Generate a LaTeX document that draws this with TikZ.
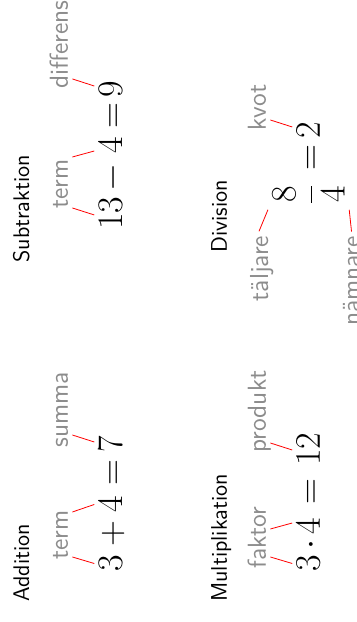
\documentclass[tikz,border=0pt]{standalone}
\tikzset{
  rubrik/.style={anchor=base west, inner sep=0pt, font=\sffamily\fontsize{11.3}{13}\selectfont},
  sym/.style={anchor=base, inner sep=2pt, font=\LARGE, scale=1.04},
  namn/.style={anchor=base, inner sep=2pt, text depth=0pt, text=black!45, font=\sffamily\fontsize{13}{15}\selectfont},
  pek/.style={red, line width=0.4pt},
}
\begin{document}
\begin{tikzpicture}[rotate=90, transform shape]
\useasboundingbox (0,0) rectangle (10.93,6.256);
% addition
\node[rubrik] (add) at (0.35,5.746) {Addition};
\node[sym] (a3) at (1.028,4.112) {$3$};
\node[sym] (aplus) at (1.546,4.112) {$+$};
\node[sym] (a4) at (2.065,4.112) {$4$};
\node[sym] (aeq) at (2.618,4.112) {$=$};
\node[sym] (a7) at (3.128,4.112) {$7$};
\node[namn] (aterm) at (1.529,5.061) {term};
\node[namn] (asumma) at (3.734,5.061) {summa};
\draw[pek] ([xshift=-11pt]aterm.south) -- (a3.north);
\draw[pek] ([xshift=11.5pt]aterm.south) -- (a4.north);
\draw[pek] ([xshift=-12.75pt]asumma.south) -- ([xshift=1pt]a7.north);
% subtraktion
\node[rubrik] (sub) at (6.31,5.746) {Subtraktion};
\node[sym] (s13) at (7.179,4.112) {$13$};
\node[sym] (sminus) at (7.802,4.112) {$-$};
\node[sym] (s4) at (8.382,4.112) {$4$};
\node[sym] (seq) at (8.892,4.112) {$=$};
\node[sym] (s9) at (9.366,4.112) {$9$};
\node[namn] (sterm) at (7.697,5.061) {term};
\node[namn] (sdiff) at (10.149,5.061) {differens};
\draw[pek] ([xshift=-12pt]sterm.south) -- ([xshift=-0.75pt]s13.north);
\draw[pek] ([xshift=13.5pt]sterm.south) -- ([xshift=-3pt]s4.north);
\draw[pek] ([xshift=-17.25pt]sdiff.south) -- ([xshift=1.5pt]s9.north);
% multiplikation
\node[rubrik] (mult) at (0.35,2.267) {Multiplikation};
\node[sym] (m3) at (1.028,0.633) {$3$};
\node[sym] (mdot) at (1.353,0.633) {$\cdot$};
\node[sym] (m4) at (1.687,0.633) {$4$};
\node[sym] (meq) at (2.284,0.633) {$=$};
\node[sym] (m12) at (3.040,0.633) {$12$};
\node[namn] (mfaktor) at (1.485,1.582) {faktor};
\node[namn] (mprodukt) at (3.699,1.582) {produkt};
\draw[pek] ([xshift=-9.75pt]mfaktor.south) -- (m3.north);
\draw[pek] ([xshift=4.25pt]mfaktor.south) -- ([xshift=1.5pt]m4.north);
\draw[pek] ([xshift=-15.75pt]mprodukt.south) -- ([xshift=-0.5pt]m12.north);
% division
\node[rubrik] (div) at (6.48,2.267) {Division};
\node[sym] (dfrac) at (7.513,0.633) {$\displaystyle\frac{8}{4}$};
\node[sym] (deq) at (8.163,0.633) {$=$};
\node[sym] (d2) at (8.646,0.633) {$2$};
\node[namn] (dkvot) at (9.041,1.582) {kvot};
\node[namn] (dtaljare) at (6.212,1.546) {täljare};
\node[namn] (dnamnare) at (5.992,-0.070) {nämnare};
\draw[pek] ([xshift=-6.25pt]dkvot.south) -- ([xshift=1.5pt]d2.north);
\draw[pek] (dtaljare.east) -- (dfrac.north west);
\draw[pek] (dfrac.south west) -- (dnamnare.east);
\end{tikzpicture}
\end{document}
